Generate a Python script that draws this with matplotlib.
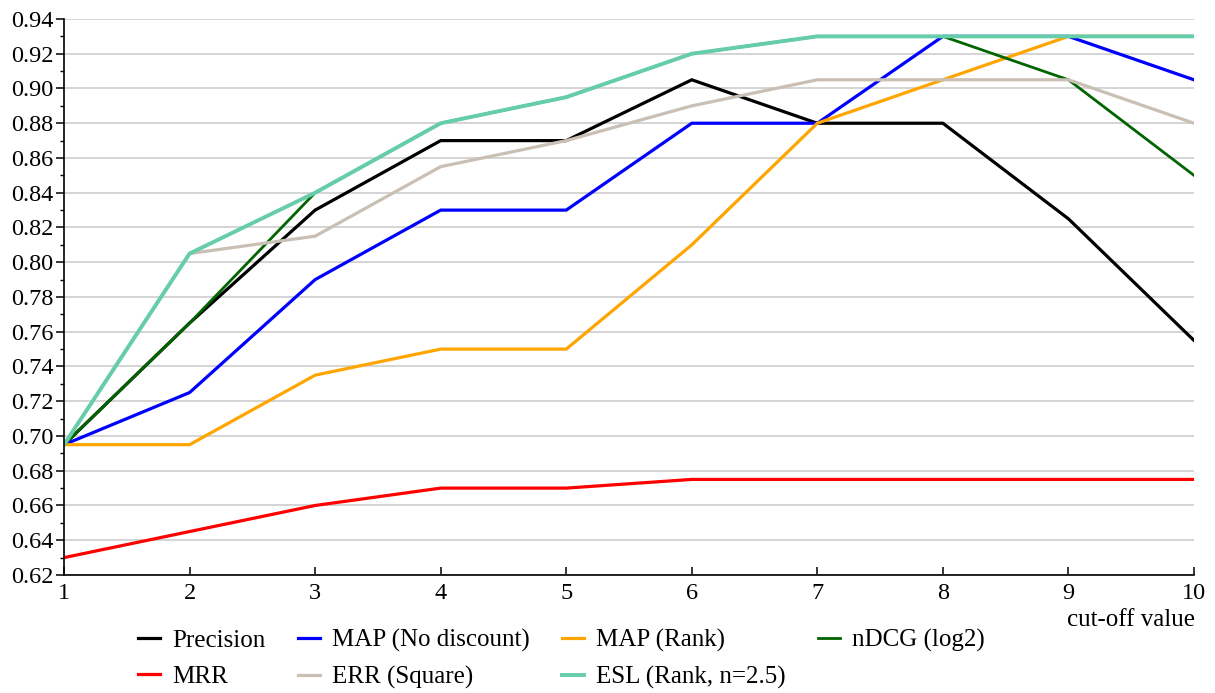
import matplotlib
matplotlib.use("Agg")
import matplotlib.pyplot as plt
from matplotlib.ticker import MultipleLocator

cutoff = [1, 2, 3, 4, 5, 6, 7, 8, 9, 10]
precision = [0.695, 0.765, 0.83, 0.87, 0.87, 0.905, 0.88, 0.88, 0.825, 0.755]
map_nodisc = [0.695, 0.725, 0.79, 0.83, 0.83, 0.88, 0.88, 0.93, 0.93, 0.905]
map_rank = [0.695, 0.695, 0.735, 0.75, 0.75, 0.81, 0.88, 0.905, 0.93, 0.93]
ndcg = [0.695, 0.765, 0.84, 0.88, 0.895, 0.92, 0.93, 0.93, 0.905, 0.85]
mrr = [0.63, 0.645, 0.66, 0.67, 0.67, 0.675, 0.675, 0.675, 0.675, 0.675]
err = [0.695, 0.805, 0.815, 0.855, 0.87, 0.89, 0.905, 0.905, 0.905, 0.88]
esl = [0.695, 0.805, 0.84, 0.88, 0.895, 0.92, 0.93, 0.93, 0.93, 0.93]

labels = ["Precision", "MAP (No discount)", "MAP (Rank)", "nDCG (log2)",
          "MRR", "ERR (Square)", "ESL (Rank, n=2.5)"]
series = [precision, map_nodisc, map_rank, ndcg, mrr, err, esl]
colors = ["#000000", "#0000ff", "#ffa500", "#006400", "#ff0000", "#c9bfb4", "#66cdaa"]
widths = [2.3, 2.3, 2.3, 2.0, 2.3, 2.3, 2.8]
yticks = [0.62, 0.64, 0.66, 0.68, 0.70, 0.72, 0.74, 0.76, 0.78, 0.80,
          0.82, 0.84, 0.86, 0.88, 0.90, 0.92, 0.94]

plt.rcParams['font.family'] = ['Liberation Serif', 'DejaVu Serif']

fig = plt.figure(figsize=(12.15, 6.93), dpi=100)
ax = fig.add_axes([0.0527, 0.1703, 0.930, 0.8023])

handles = []
for lab, ys, c, w in zip(labels, series, colors, widths):
    h, = ax.plot(cutoff, ys, color=c, lw=w, label=lab, solid_joinstyle='miter')
    handles.append(h)

ax.set_xlim(1, 10)
ax.set_ylim(0.62, 0.94)
ax.set_yticks(yticks)
ax.set_yticklabels([f"{v:.2f}" for v in yticks])
ax.yaxis.set_minor_locator(MultipleLocator(0.01))
ax.set_xticks(cutoff)
ax.set_xticklabels([str(v) for v in cutoff])
ax.grid(axis='y', which='major', color='#d4d4d4', lw=1.4)
ax.set_axisbelow(True)
for s in ['top', 'right']:
    ax.spines[s].set_visible(False)
ax.spines['left'].set_linewidth(1.2)
ax.spines['bottom'].set_linewidth(1.2)
ax.tick_params(axis='y', which='major', direction='out', length=6, width=1.1, labelsize=17.5, pad=1.5)
ax.tick_params(axis='y', which='minor', direction='out', length=3, width=1.0)
ax.tick_params(axis='x', which='major', direction='in', length=6, width=1.1, labelsize=17.5, pad=5.5)

fig.text(0.9835, 1 - 620 / 693, "cut-off value", ha='right', va='center', fontsize=18)

# reorder so that matplotlib's column-major filling gives row-major display
order = [0, 4, 1, 5, 2, 6, 3]
fig.legend(handles=[handles[i] for i in order], labels=[labels[i] for i in order],
           ncol=4, loc='center left',
           bbox_to_anchor=(138 / 1215, 1 - 659 / 693), frameon=False, fontsize=18,
           handlelength=0.88, handletextpad=0.48, columnspacing=1.3,
           labelspacing=0.55, borderaxespad=0, borderpad=0)

fig.savefig("out.png", dpi=100)
